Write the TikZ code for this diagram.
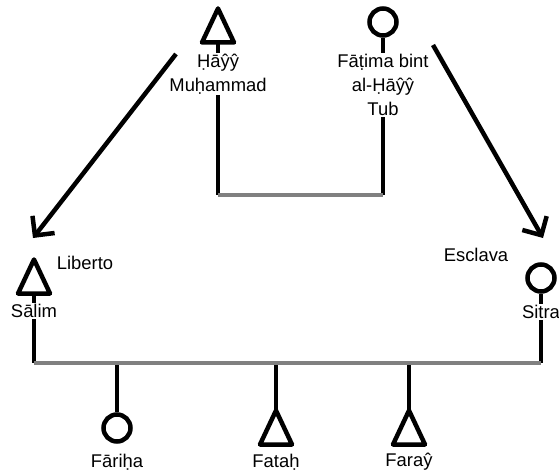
\documentclass[tikz,border=0pt]{standalone}
\usepackage{fontspec}
\setmainfont{Liberation Sans}
\usepackage{tikz}
\usepackage{xcolor}
\usetikzlibrary{arrows.meta,positioning,calc}
\definecolor{kinline}{RGB}{128,128,128}

\tikzset{
  sym/.style={line width=4.5pt, line join=round},
  male/.pic={\draw[sym] (0,17) coordinate (-top) -- (16,-17) -- (-16,-17) -- cycle;
             \coordinate (-bot) at (0,-17);},
  female/.style={circle, draw, line width=4.5pt, minimum size=27pt, inner sep=0pt}
}

\begin{document}
\begin{tikzpicture}[x=1pt, y=1pt, >={Straight Barb[length=14pt,width=28pt]},
  every node/.style={font=\fontsize{18.4}{24}\selectfont, align=center},
  namebox/.style={fill=white, inner sep=1pt}]
\useasboundingbox (0,0) rectangle (559,472);
% parents
\pic (hayy) at (218,446.5) {male};
\node[female] (fatima) at (383,450) {};
\coordinate (m1) at (218,277);
\coordinate (m2) at (383,277);
\draw[line width=4.5pt] (hayy-bot) -- (m1);
\draw[line width=4.5pt] (fatima.south) -- (m2);
\draw[line width=4.5pt, kinline] (m1) -- (m2);
\node[namebox] (hayyname) at (218,398) {Ḥāŷŷ\\Muḥammad};
\node[namebox] (fatimaname) at (383,387) {Fāṭima bint\\al-Ḥāŷŷ\\Tub};
% arrows to the couple below
\coordinate (a1) at (176,418);
\coordinate (a2) at (433,427);
\coordinate (t1) at (33,234);
\coordinate (t2) at (543,234);
\draw[line width=4.5pt, ->] (a1) -- (t1);
\draw[line width=4.5pt, ->] (a2) -- (t2);
% second couple
\pic (salim) at (34,195.5) {male};
\node[female] (sitra) at (541,194) {};
\coordinate (s1) at (34,109);
\coordinate (s2) at (541,109);
\draw[line width=4.5pt] (salim-bot) -- (s1);
\draw[line width=4.5pt] (sitra.south) -- (s2);
\node[namebox] (salimname) at (34,161) {Sālim};
\node[namebox] (sitraname) at (541,160) {Sitra};
\node (liberto) at (85,209) {Liberto};
\node (esclava) at (476,217) {Esclava};
% children
\node[female] (fariha) at (117,44) {};
\pic (fatah) at (276,44.5) {male};
\pic (faray) at (409,44.5) {male};
\draw[line width=4.5pt] (fariha.north) -- (fariha.north |- s1);
\draw[line width=4.5pt] (fatah-top) -- (fatah-top |- s1);
\draw[line width=4.5pt] (faray-top) -- (faray-top |- s1);
\draw[line width=4.5pt, kinline] (s1) -- (s2);
\node (farihaname) at (117,10) {Fāriḥa};
\node (fatahname) at (276,10) {Fataḥ};
\node (farayname) at (409,10) {Faraŷ};
\end{tikzpicture}
\end{document}
